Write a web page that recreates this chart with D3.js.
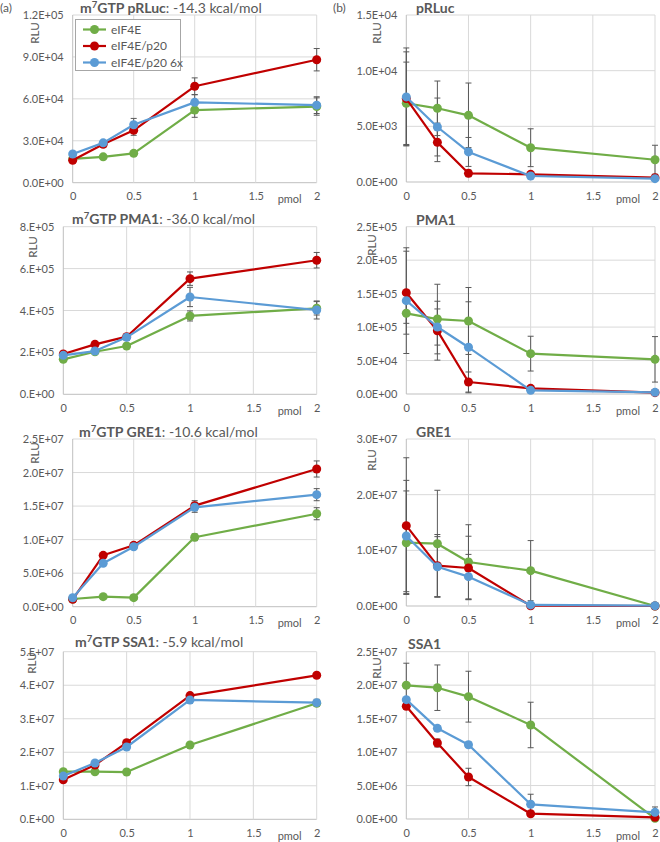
<!DOCTYPE html>
<html>
<head>
<meta charset="utf-8">
<script src="https://cdn.jsdelivr.net/npm/d3@7"></script>
<style>
  body { margin: 0; background: #fff; }
  svg { display: block; }
  text { font-family: Lato, "Open Sans", "Liberation Sans", sans-serif; fill: #595959; }
</style>
</head>
<body>
<svg id="chart" width="660" height="842"></svg>
<script>
// ---------------- DATA ----------------
const xValues = [0, 0.25, 0.5, 1, 2];
const xTicks = [0, 0.5, 1, 1.5, 2];
const xTickLabels = ["0", "0.5", "1", "1.5", "2"];
const seriesNames = ["eIF4E", "eIF4E/p20", "eIF4E/p20 6x"];
const seriesColors = ["#70AD47", "#C00000", "#5B9BD5"];

// (a) m7GTP pRLuc
const pRLucA_green = [17000, 18500, 21000, 52000, 54500];
const pRLucA_red   = [16000, 27500, 37500, 69000, 88000];
const pRLucA_blue  = [20500, 28500, 41500, 57500, 55500];
const pRLucA_errGreen = [1000, 1000, 1500, 5200, 6200];
const pRLucA_errRed   = [1000, 2000, 3600, 6000, 8000];
const pRLucA_errBlue  = [1000, 1500, 4500, 5500, 6000];
const pRLucA_yTicks = [0, 30000, 60000, 90000, 120000];
const pRLucA_yLabels = ["0.0E+00", "3.0E+04", "6.0E+04", "9.0E+04", "1.2E+05"];

// (b) pRLuc
const pRLucB_green = [7070, 6620, 5990, 3080, 2000];
const pRLucB_red   = [7490, 3560, 780, 690, 390];
const pRLucB_blue  = [7640, 4940, 2700, 540, 300];
const pRLucB_errGreen = [3700, 2450, 2900, 1700, 1300];
const pRLucB_errRed   = [4200, 1730, 300, 200, 100];
const pRLucB_errBlue  = [4400, 2600, 1300, 200, 100];
const pRLucB_yTicks = [0, 5000, 10000, 15000];
const pRLucB_yLabels = ["0.0E+00", "5.0E+03", "1.0E+04", "1.5E+04"];

// (a) m7GTP PMA1
const pma1A_green = [167000, 203000, 230500, 374000, 410500];
const pma1A_red   = [192500, 238500, 275000, 552000, 640000];
const pma1A_blue  = [186000, 206500, 272000, 464500, 402500];
const pma1A_errGreen = [5000, 8000, 10000, 24000, 32000];
const pma1A_errRed   = [8000, 14000, 10000, 32000, 37000];
const pma1A_errBlue  = [8000, 8000, 15000, 46000, 43000];
const pma1A_yTicks = [0, 200000, 400000, 600000, 800000];
const pma1A_yLabels = ["0.E+00", "2.E+05", "4.E+05", "6.E+05", "8.E+05"];

// (b) PMA1
const pma1B_green = [120600, 112000, 109100, 60300, 51800];
const pma1B_red   = [151400, 94600, 17900, 8500, 2000];
const pma1B_blue  = [139500, 100100, 69800, 5500, 2500];
const pma1B_errGreen = [15000, 52000, 50000, 26000, 34000];
const pma1B_errRed   = [62000, 44000, 15000, 3000, 1000];
const pma1B_errBlue  = [79000, 27000, 68000, 2000, 1000];
const pma1B_yTicks = [0, 50000, 100000, 150000, 200000, 250000];
const pma1B_yLabels = ["0.0E+00", "5.0E+04", "1.0E+05", "1.5E+05", "2.0E+05", "2.5E+05"];

// (a) m7GTP GRE1
const gre1A_green = [1150000, 1500000, 1350000, 10350000, 13860000];
const gre1A_red   = [1100000, 7660000, 9150000, 15060000, 20530000];
const gre1A_blue  = [1340000, 6470000, 8940000, 14820000, 16700000];
const gre1A_errGreen = [100000, 100000, 100000, 500000, 900000];
const gre1A_errRed   = [100000, 300000, 400000, 750000, 1200000];
const gre1A_errBlue  = [100000, 300000, 400000, 750000, 900000];
const gre1A_yTicks = [0, 5e6, 1e7, 1.5e7, 2e7, 2.5e7];
const gre1A_yLabels = ["0.0E+00", "5.0E+06", "1.0E+07", "1.5E+07", "2.0E+07", "2.5E+07"];

// (b) GRE1
const gre1B_green = [11370000, 11190000, 7900000, 6350000, 0];
const gre1B_red   = [14430000, 7240000, 6830000, 50000, 0];
const gre1B_blue  = [12570000, 7060000, 5270000, 200000, 50000];
const gre1B_errGreen = [9300000, 9600000, 6700000, 5400000, 0];
const gre1B_errRed   = [12200000, 5600000, 5700000, 0, 0];
const gre1B_errBlue  = [10000000, 5400000, 4000000, 0, 0];
const gre1B_yTicks = [0, 1e7, 2e7, 3e7];
const gre1B_yLabels = ["0.0E+00", "1.0E+07", "2.0E+07", "3.0E+07"];

// (a) m7GTP SSA1
const ssa1A_green = [14200000, 14200000, 14100000, 22170000, 34600000];
const ssa1A_red   = [11800000, 16200000, 22860000, 36900000, 42960000];
const ssa1A_blue  = [12900000, 16800000, 21570000, 35600000, 34800000];
const ssa1A_errGreen = [300000, 300000, 300000, 400000, 500000];
const ssa1A_errRed   = [400000, 500000, 500000, 800000, 500000];
const ssa1A_errBlue  = [500000, 600000, 500000, 900000, 1000000];
const ssa1A_yTicks = [0, 1e7, 2e7, 3e7, 4e7, 5e7];
const ssa1A_yLabels = ["0.E+00", "1.E+07", "2.E+07", "3.E+07", "4.E+07", "5.E+07"];

// (b) SSA1
const ssa1B_green = [19980000, 19620000, 18280000, 14050000, 100000];
const ssa1B_red   = [16840000, 11360000, 6280000, 790000, 250000];
const ssa1B_blue  = [17830000, 13550000, 11100000, 2200000, 1000000];
const ssa1B_errGreen = [3300000, 3400000, 3800000, 3400000, 200000];
const ssa1B_errRed   = [400000, 600000, 1300000, 200000, 100000];
const ssa1B_errBlue  = [300000, 400000, 400000, 1500000, 800000];
const ssa1B_yTicks = [0, 5e6, 1e7, 1.5e7, 2e7, 2.5e7];
const ssa1B_yLabels = ["0.0E+00", "5.0E+06", "1.0E+07", "1.5E+07", "2.0E+07", "2.5E+07"];

// ---------------- LAYOUT ----------------
const panels = [
  { bold: "m", sup: "7", boldRest: "GTP pRLuc", rest: ": -14.3 kcal/mol",
    series: [pRLucA_green, pRLucA_red, pRLucA_blue], errs: [pRLucA_errGreen, pRLucA_errRed, pRLucA_errBlue],
    yTicks: pRLucA_yTicks, yLabels: pRLucA_yLabels,
    x0: 72.7, x1: 316.7, y0: 182.7, y1: 15, titleX: 80, titleY: 12, rluX: 36, rluY: 33, legend: true },
  { bold: "pRLuc", series: [pRLucB_green, pRLucB_red, pRLucB_blue], errs: [pRLucB_errGreen, pRLucB_errRed, pRLucB_errBlue],
    yTicks: pRLucB_yTicks, yLabels: pRLucB_yLabels,
    x0: 406.3, x1: 655, y0: 182, y1: 15, titleX: 416, titleY: 12, rluX: 378, rluY: 33 },
  { bold: "m", sup: "7", boldRest: "GTP PMA1", rest: ": -36.0 kcal/mol",
    series: [pma1A_green, pma1A_red, pma1A_blue], errs: [pma1A_errGreen, pma1A_errRed, pma1A_errBlue],
    yTicks: pma1A_yTicks, yLabels: pma1A_yLabels,
    x0: 63.3, x1: 316.7, y0: 394.3, y1: 226.7, titleX: 72, titleY: 223, rluX: 34, rluY: 247 },
  { bold: "PMA1", series: [pma1B_green, pma1B_red, pma1B_blue], errs: [pma1B_errGreen, pma1B_errRed, pma1B_errBlue],
    yTicks: pma1B_yTicks, yLabels: pma1B_yLabels,
    x0: 406.3, x1: 655, y0: 394, y1: 226.7, titleX: 416, titleY: 224, rluX: 373, rluY: 245 },
  { bold: "m", sup: "7", boldRest: "GTP GRE1", rest: ": -10.6 kcal/mol",
    series: [gre1A_green, gre1A_red, gre1A_blue], errs: [gre1A_errGreen, gre1A_errRed, gre1A_errBlue],
    yTicks: gre1A_yTicks, yLabels: gre1A_yLabels,
    x0: 72.7, x1: 316.7, y0: 606.7, y1: 439, titleX: 79, titleY: 436, rluX: 36, rluY: 453 },
  { bold: "GRE1", series: [gre1B_green, gre1B_red, gre1B_blue], errs: [gre1B_errGreen, gre1B_errRed, gre1B_errBlue],
    yTicks: gre1B_yTicks, yLabels: gre1B_yLabels,
    x0: 406.3, x1: 655, y0: 606, y1: 439, titleX: 416, titleY: 436, rluX: 373, rluY: 460 },
  { bold: "m", sup: "7", boldRest: "GTP SSA1", rest: ": -5.9 kcal/mol",
    series: [ssa1A_green, ssa1A_red, ssa1A_blue], errs: [ssa1A_errGreen, ssa1A_errRed, ssa1A_errBlue],
    yTicks: ssa1A_yTicks, yLabels: ssa1A_yLabels,
    x0: 63.3, x1: 316.7, y0: 819.3, y1: 651.7, titleX: 75, titleY: 646, rluX: 33, rluY: 663 },
  { bold: "SSA1", series: [ssa1B_green, ssa1B_red, ssa1B_blue], errs: [ssa1B_errGreen, ssa1B_errRed, ssa1B_errBlue],
    yTicks: ssa1B_yTicks, yLabels: ssa1B_yLabels,
    x0: 406.3, x1: 655, y0: 819, y1: 651.7, titleX: 408, titleY: 648, rluX: 378, rluY: 668 }
];

const svg = d3.select("#chart");
const gridColor = "#D9D9D9";
const errColor = "#595959";
const tickFont = 11;

svg.append("text").attr("x", 0).attr("y", 12).attr("font-size", 12).text("(a)");
svg.append("text").attr("x", 333).attr("y", 12).attr("font-size", 12).text("(b)");

panels.forEach(p => {
  const x = d3.scaleLinear().domain([0, 2]).range([p.x0, p.x1]);
  const y = d3.scaleLinear().domain([0, d3.max(p.yTicks)]).range([p.y0, p.y1]);
  const g = svg.append("g");

  // horizontal gridlines
  g.append("g").selectAll("line").data(p.yTicks).join("line")
    .attr("x1", p.x0).attr("x2", p.x1)
    .attr("y1", d => y(d)).attr("y2", d => y(d))
    .attr("stroke", (d, i) => i === 0 ? "#BFBFBF" : gridColor).attr("stroke-width", 1);
  // vertical gridlines
  g.append("g").selectAll("line").data(xTicks).join("line")
    .attr("x1", d => x(d)).attr("x2", d => x(d))
    .attr("y1", p.y0).attr("y2", p.y1)
    .attr("stroke", (d, i) => i === 0 ? "#BFBFBF" : gridColor).attr("stroke-width", 1);

  // y axis labels
  const yAxis = d3.axisLeft(y).tickValues(p.yTicks)
    .tickFormat((d, i) => p.yLabels[i]).tickSize(0).tickPadding(9);
  const ya = g.append("g").attr("transform", `translate(${p.x0},0)`).call(yAxis);
  ya.select(".domain").remove();
  ya.selectAll("text").attr("font-size", tickFont).attr("fill", "#595959")
    .style("font-family", "Lato, 'Open Sans', sans-serif");

  // x axis labels
  const xAxis = d3.axisBottom(x).tickValues(xTicks)
    .tickFormat((d, i) => xTickLabels[i]).tickSize(0).tickPadding(10);
  const xa = g.append("g").attr("transform", `translate(0,${p.y0})`).call(xAxis);
  xa.select(".domain").remove();
  xa.selectAll("text").attr("font-size", tickFont).attr("fill", "#595959")
    .style("font-family", "Lato, 'Open Sans', sans-serif");
  g.append("text").attr("x", x(2) - 15).attr("y", p.y0 + 20.5)
    .attr("text-anchor", "end").attr("font-size", tickFont).text("pmol");

  // RLU label
  g.append("text").attr("transform", `translate(${p.rluX + 3},${p.rluY}) rotate(-90)`)
    .attr("text-anchor", "middle").attr("font-size", 11.5).text("RLU");

  // title
  const t = g.append("text").attr("x", p.titleX).attr("y", p.titleY + 1).attr("font-size", 14);
  if (p.sup) {
    t.append("tspan").attr("font-weight", "bold").text(p.bold);
    t.append("tspan").attr("font-weight", "bold").attr("font-size", 9.5).attr("dy", -5).text(p.sup);
    t.append("tspan").attr("font-weight", "bold").attr("dy", 5).text(p.boldRest);
    t.append("tspan").text(p.rest);
  } else {
    t.append("tspan").attr("font-weight", "bold").text(p.bold);
  }

  // error bars
  p.series.forEach((vals, si) => {
    const errs = p.errs[si];
    const eg = g.append("g").attr("stroke", errColor).attr("stroke-width", 1);
    vals.forEach((v, i) => {
      const e = errs[i];
      if (!e) return;
      const cx = x(xValues[i]);
      const lo = y(Math.max(0, v - e)), hi = y(v + e);
      eg.append("line").attr("x1", cx).attr("x2", cx).attr("y1", lo).attr("y2", hi);
      eg.append("line").attr("x1", cx - 3).attr("x2", cx + 3).attr("y1", lo).attr("y2", lo);
      eg.append("line").attr("x1", cx - 3).attr("x2", cx + 3).attr("y1", hi).attr("y2", hi);
    });
  });

  // lines + markers
  const line = d3.line().x((d, i) => x(xValues[i])).y(d => y(d));
  p.series.forEach((vals, si) => {
    g.append("path").datum(vals).attr("d", line)
      .attr("fill", "none").attr("stroke", seriesColors[si]).attr("stroke-width", 2.2)
      .attr("stroke-linejoin", "round");
    g.append("g").selectAll("circle").data(vals).join("circle")
      .attr("cx", (d, i) => x(xValues[i])).attr("cy", d => y(d)).attr("r", 4.5)
      .attr("fill", seriesColors[si]);
  });

  // legend
  if (p.legend) {
    const lg = g.append("g");
    lg.append("rect").attr("x", 75.5).attr("y", 19.5).attr("width", 105).attr("height", 51)
      .attr("fill", "#fff").attr("stroke", "#A6A6A6").attr("stroke-width", 1);
    seriesNames.forEach((n, i) => {
      const ly = 29.5 + i * 16.5;
      lg.append("line").attr("x1", 83).attr("x2", 106).attr("y1", ly).attr("y2", ly)
        .attr("stroke", seriesColors[i]).attr("stroke-width", 2.2);
      lg.append("circle").attr("cx", 94.5).attr("cy", ly).attr("r", 4.5).attr("fill", seriesColors[i]);
      lg.append("text").attr("x", 111).attr("y", ly + 4.2).attr("font-size", 12).text(n);
    });
  }
});
</script>
</body>
</html>
